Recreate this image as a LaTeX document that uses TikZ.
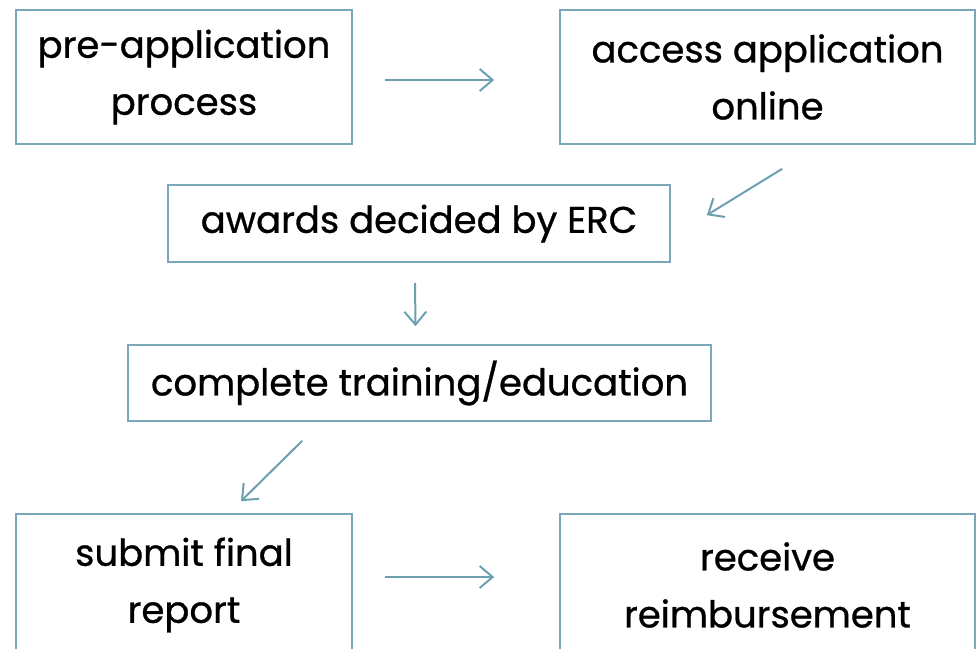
\documentclass[tikz,border=0pt]{standalone}
\usepackage{fontspec}
\setmainfont{Poppins}[FakeBold=0.8]
\usetikzlibrary{calc,arrows.meta}
\definecolor{boxline}{RGB}{122,168,184}
\definecolor{arrline}{RGB}{108,160,177}
\tikzset{
    block/.style = {draw=boxline, line width=1.6pt, rectangle, inner sep=0pt,
        align=center, font=\fontsize{37}{57}\selectfont},
    arrow/.style = {draw=arrline, line width=2pt,
        -{Straight Barb[length=13pt,width=22pt,line width=2pt]}}
}

\begin{document}
\begin{tikzpicture}[x=1pt,y=-1pt]
    \useasboundingbox (0,0) rectangle (976,648);
    \node [block,minimum width=336pt,minimum height=134pt] (pre) at (184,77) {pre-application\\process};
    \node [block,minimum width=415pt,minimum height=134pt] (access) at (767.5,77) {access application\\online};
    \draw [arrow] ($(pre.east)+(32,3)$) -- ($(access.west)+(-65,3)$);
    \node [block,minimum width=502pt,minimum height=77pt] (awards) at (419,223.5) {awards decided by ERC};
    \draw [arrow] ($(access.south west)+(223,24)$) -- ($(awards.north east)+(36,31)$);
    \node [block,minimum width=583pt,minimum height=76pt] (train) at (419.5,383) {complete training/education};
    \draw [arrow] ($(awards.south)+(-4,20)$) -- ($(train.north)+(-4,-18)$);
    \node [block,minimum width=336pt,minimum height=142pt] (report) at (184,585) {submit final\\report};
    \draw [arrow] ($(train.south west)+(175,19)$) -- ($(report.north)+(57,-12)$);
    \node [block,minimum width=415pt,minimum height=142pt] (reimb) at (767.5,585) {receive\\reimbursement};
    \draw [arrow] ($(report.east)+(32,-8)$) -- ($(reimb.west)+(-65,-8)$);
\end{tikzpicture}
\end{document}
